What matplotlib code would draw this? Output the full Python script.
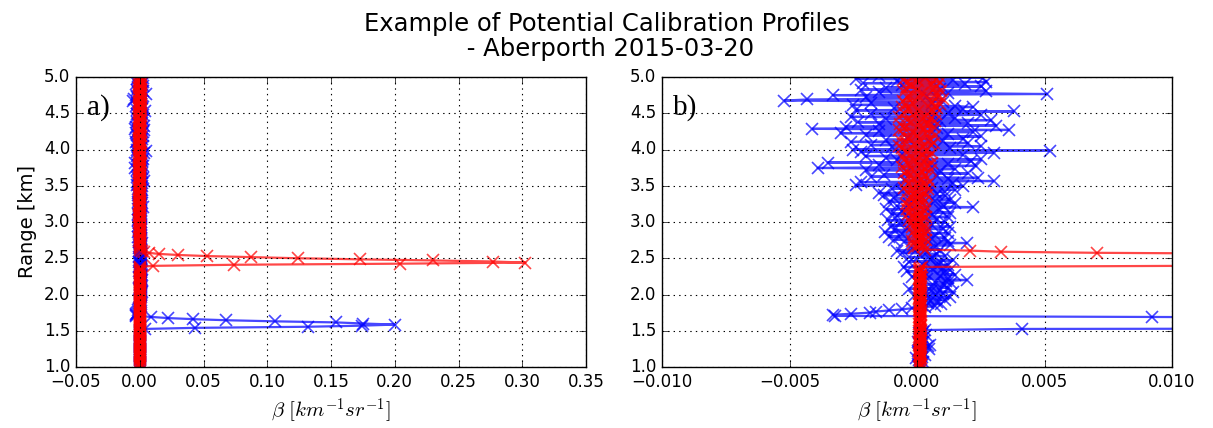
import numpy as np
import matplotlib
matplotlib.use("Agg")
import matplotlib.pyplot as plt

# ---------------- data ----------------
RANGE_START_KM = 1.0
GATE_KM = 0.015          # range-gate spacing
BETA_UNIT = 1e-5         # values below are in units of 1e-5 km^-1 sr^-1

blue_beta = [
    10, 5, 18, 2, 12, 25, 8, 15, -5, 20, 12, 30, 6, 14, 22, 3, 10, 48, 18, 42,
    50, 12, 20, 5, 28, 15, 8, 22, 12, 35, 18, 6, 25, 14, 30, 410, 4300, 13200, 17400, 20000,
    17500, 15400, 10600, 6800, 4200, 2200, 920, -320, -330, -260, -185, -160, -110, -60, -20, 30, 70, 20, 95, 45,
    80, 20, 110, 45, 130, -10, 75, 100, 30, 140, 55, 90, -30, 120, 60, 105, 10, 135, 70, 115,
    195, 40, 120, -20, 90, 150, 30, 110, -40, 130, 60, 100, -50, 80, 120, 20, 95, -30, 140, 50,
    60, -30, 110, 10, 80, -60, 40, -80, 90, -20, 70, 20, 130, -10, 195, -50, 120, -90, 60, 110,
    -110, 70, -60, 120, -125, 40, -90, 100, -40, 130, -100, 60, -70, 110, 10, -115, 80, -30, 120, -80,
    60, -100, 130, -60, 90, -120, 40, 220, -80, 100, -30, 150, -110, 70, 130, -90, 20, 110, -130, 80,
    -150, 110, -60, 150, -100, 60, 180, -240, 20, 140, -220, 300, -50, 120, 240, -180, 80, -130, 200, -40,
    90, -200, 150, -390, 60, 230, -150, 120, -350, 210, -80, 250, -120, 40, -200, 180, -60, 300, -220, 520,
    -250, 130, -100, 250, -180, 60, 200, -260, 100, -120, 180, -40, 250, -200, 120, -300, 220, -150, 360, -410,
    80, -280, 310, -150, 200, -230, 90, 290, -120, 150, -260, 60, 250, -180, 120, 380, -240, 180, -90, 220,
    150, -250, 60, -180, 100, -520, -430, 80, -200, 40, -330, 510, 120, -150, 270, -220, 90, -120, 250, -60,
    190, -210, 270, -80, 140, -240, 260, 30, -150,
]

red_beta = [
    12, 10, 14, 11, 9, 13, 12, 10, 15, 11, 8, 12, 14, 10, 11, 13, 9, 12, 10, 14,
    11, 13, 9, 12, 15, 10, 11, 14, 8, 12, 13, 10, 12, 9, 14, 11, 13, 10, 12, 15,
    9, 12, 14, 10, 11, 13, 8, 12, 15, 10, 11, 14, 9, 13, 12, 10, 16, 11, 9, 13,
    12, 10, 15, 8, 13, 11, 14, 9, 12, 16, 10, 13, 7, 12, 15, 11, 9, 14, 12, 10,
    13, 8, 15, 11, 10, 16, 9, 12, 14, 7, 13, 11, 20, 1040, 7360, 20400, 30250, 27700, 23000, 17300,
    12420, 8690, 5290, 3030, 1480, 705, 330, 208, 30, -10, 25, 5, 30, -15, 20, 10, -20, 35, 0, 15,
    25, -10, 30, 5, -15, 20, 35, -5, 15, -20, 30, 0, -25, 20, 10, -30, 25, -10, 35, -20,
    20, -35, 10, 30, -20, -40, 15, 35, -30, 5, -45, 25, -10, 30, -35, 0, 20, -25, 40, -15,
    30, -40, 10, -20, 45, -50, 15, 35, -30, 0, 50, -45, 20, -15, 40, -35, 5, 30, -50, 25,
    -40, 55, -20, 30, -60, 15, 45, -35, 60, -10, -50, 35, 10, -55, 50, -25, 20, 60, -45, 5,
    40, -60, 25, -70, 55, -10, 65, -45, 15, -65, 50, -30, 70, 0, -55, 35, -20, 60, -70, 30,
    -50, 65, 10, -65, 45, -25, 70, -40, 20, 55, -70, 35, -15, 75, -50, 5, 60, -35, 80, -60,
    70, -45, 90, -20, 60, -55, 100, 10, -40, 85, -30, 75, 20, -50, 95, 0, 65, -45, 80, -25,
    60, -40, 90, 5, -55, 75, 30, -20, 85,
]

title_text = "Example of Potential Calibration Profiles\n - Aberporth 2015-03-20"
panel_labels = ["a)", "b)"]
xlims = [(-0.05, 0.35), (-0.010, 0.010)]
xticks = [[-0.05, 0.00, 0.05, 0.10, 0.15, 0.20, 0.25, 0.30, 0.35],
          [-0.010, -0.005, 0.000, 0.005, 0.010]]
yticks = [1.0, 1.5, 2.0, 2.5, 3.0, 3.5, 4.0, 4.5, 5.0]

# ---------------- plot ----------------
plt.style.use("classic")
plt.rcParams["mathtext.fontset"] = "cm"
plt.rcParams["font.family"] = ["DejaVu Sans"]

fig = plt.figure(figsize=(12.13, 4.28), dpi=100, facecolor="white")
W, H = 1213.0, 428.0
bottom = 1 - 367.0 / H
top = 1 - 77.0 / H
axes = [fig.add_axes([76.0 / W, bottom, (586.0 - 76.0) / W, top - bottom]),
        fig.add_axes([662.0 / W, bottom, (1172.0 - 662.0) / W, top - bottom])]

b = np.asarray(blue_beta, float) * BETA_UNIT
r = np.asarray(red_beta, float) * BETA_UNIT
rng_b = RANGE_START_KM + GATE_KM * np.arange(len(b))
rng_r = RANGE_START_KM + GATE_KM * np.arange(len(r))

for k, ax in enumerate(axes):
    ax.set_facecolor("white")
    ax.plot(b, rng_b, color="b", marker="x", markersize=9, markeredgewidth=1.2,
            lw=1.6, alpha=0.72)
    ax.plot(r, rng_r, color="r", marker="x", markersize=9, markeredgewidth=1.2,
            lw=1.6, alpha=0.72)
    ax.set_xlim(*xlims[k])
    ax.set_ylim(1.0, 5.0)
    ax.set_xticks(xticks[k])
    ax.set_yticks(yticks)
    ax.yaxis.set_major_formatter(matplotlib.ticker.FormatStrFormatter("%.1f"))
    ax.grid(True, color="k", linestyle=":", linewidth=0.8)
    ax.tick_params(labelsize=12, direction="in", length=5)
    ax.set_xlabel(r"$\beta\ [km^{-1}sr^{-1}]$", fontsize=15, labelpad=4)
    ax.text(0.022, 0.94, panel_labels[k], transform=ax.transAxes, fontsize=21,
            family="Liberation Serif", va="top", ha="left")

axes[0].set_ylabel("Range [km]", fontsize=14)
fig.suptitle(title_text, fontsize=17.5, y=0.972, va="top", linespacing=1.05)

fig.savefig("out.png", dpi=100, facecolor="white")
